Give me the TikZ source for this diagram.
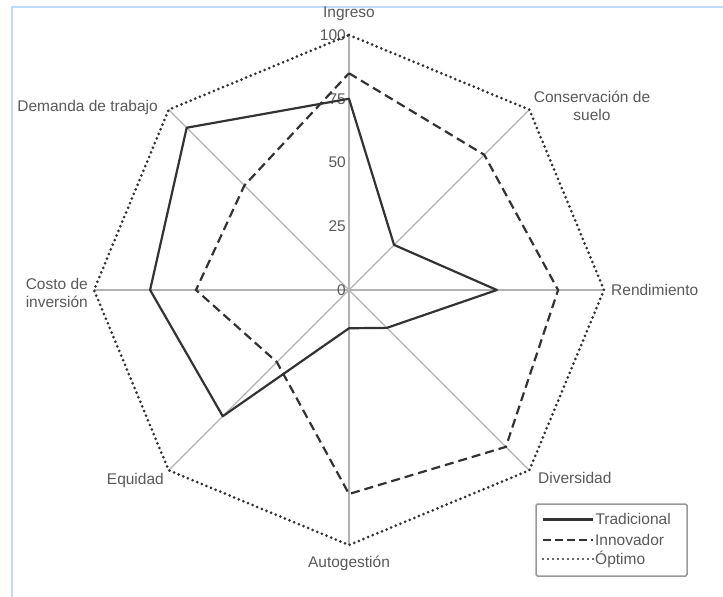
\documentclass[tikz,border=0pt]{standalone}
\usepackage{fontspec}
\setmainfont{Liberation Sans}
\begin{document}
\begin{tikzpicture}[x=1pt,y=1pt,font=\fontsize{15.5}{18}\selectfont,
    lbl/.style={text=black!65,inner sep=1pt},
    eje/.style={black!30,line width=1.2pt},
    trad/.style={black!80,line width=2.2pt,line join=round},
    inno/.style={black!80,line width=2.2pt,dash pattern=on 9pt off 5pt},
    opti/.style={black!80,line width=3pt,line cap=round,dash pattern=on 0pt off 5pt}]
    \useasboundingbox(-349,-307)rectangle(374,290);
    \draw[blue!60!cyan!25,line width=2pt](-337,-307)--(-337,283)--(374,283);
    \foreach \ang in{0,45,...,315}\draw[eje](0,0)--(\ang:255);
    \foreach \v in{0,25,50,75,100}\node[lbl,anchor=east](v\v)at(-2,{\v*2.55}){\v};
    \draw[opti](90:255)\foreach \ang in{45,0,...,-225}{--(\ang:255)}--cycle;
    \foreach \ang/\v[count=\k]in{90/75,45/25,0/58,-45/21,-90/15,-135/70,180/78,135/90}
        \coordinate(t\k)at(\ang:{\v*2.55});
    \foreach \ang/\v[count=\k]in{90/85,45/75,0/82,-45/87,-90/80,-135/40,180/60,135/58}
        \coordinate(n\k)at(\ang:{\v*2.55});
    \draw[trad](t1)--(t2)--(t3)--(t4)--(t5)--(t6)--(t7)--(t8)--cycle;
    \draw[inno](n1)--(n2)--(n3)--(n4)--(n5)--(n6)--(n7)--(n8)--cycle;
    \node[lbl](ingreso)at(0,276){Ingreso};
    \node[lbl,align=center](conserv)at(243,184){Conservación de\\suelo};
    \node[lbl,anchor=west](rend)at(261,0){Rendimiento};
    \node[lbl,anchor=west](divers)at(188,-188){Diversidad};
    \node[lbl](autog)at(0,-273){Autogestión};
    \node[lbl,anchor=east](equidad)at(-184,-190){Equidad};
    \node[lbl,anchor=east,align=left](costo)at(-260,-3){Costo de\\inversión};
    \node[lbl,anchor=east](demanda)at(-190,183){Demanda de trabajo};
    \draw[black!40,line width=1.5pt,rounded corners=1.5pt](187,-214)rectangle(338,-286);
    \draw[trad,line width=3pt](194,-229)--(244,-229)node[lbl,anchor=west](leyt){Tradicional};
    \draw[inno,dash pattern=on 8pt off 4pt](194,-250)--(244,-250)node[lbl,anchor=west](leyn){Innovador};
    \draw[opti,line width=2.4pt,dash pattern=on 0pt off 5pt](194,-269)--(244,-269)node[lbl,anchor=west](leyo){Óptimo};
\end{tikzpicture}
\end{document}
